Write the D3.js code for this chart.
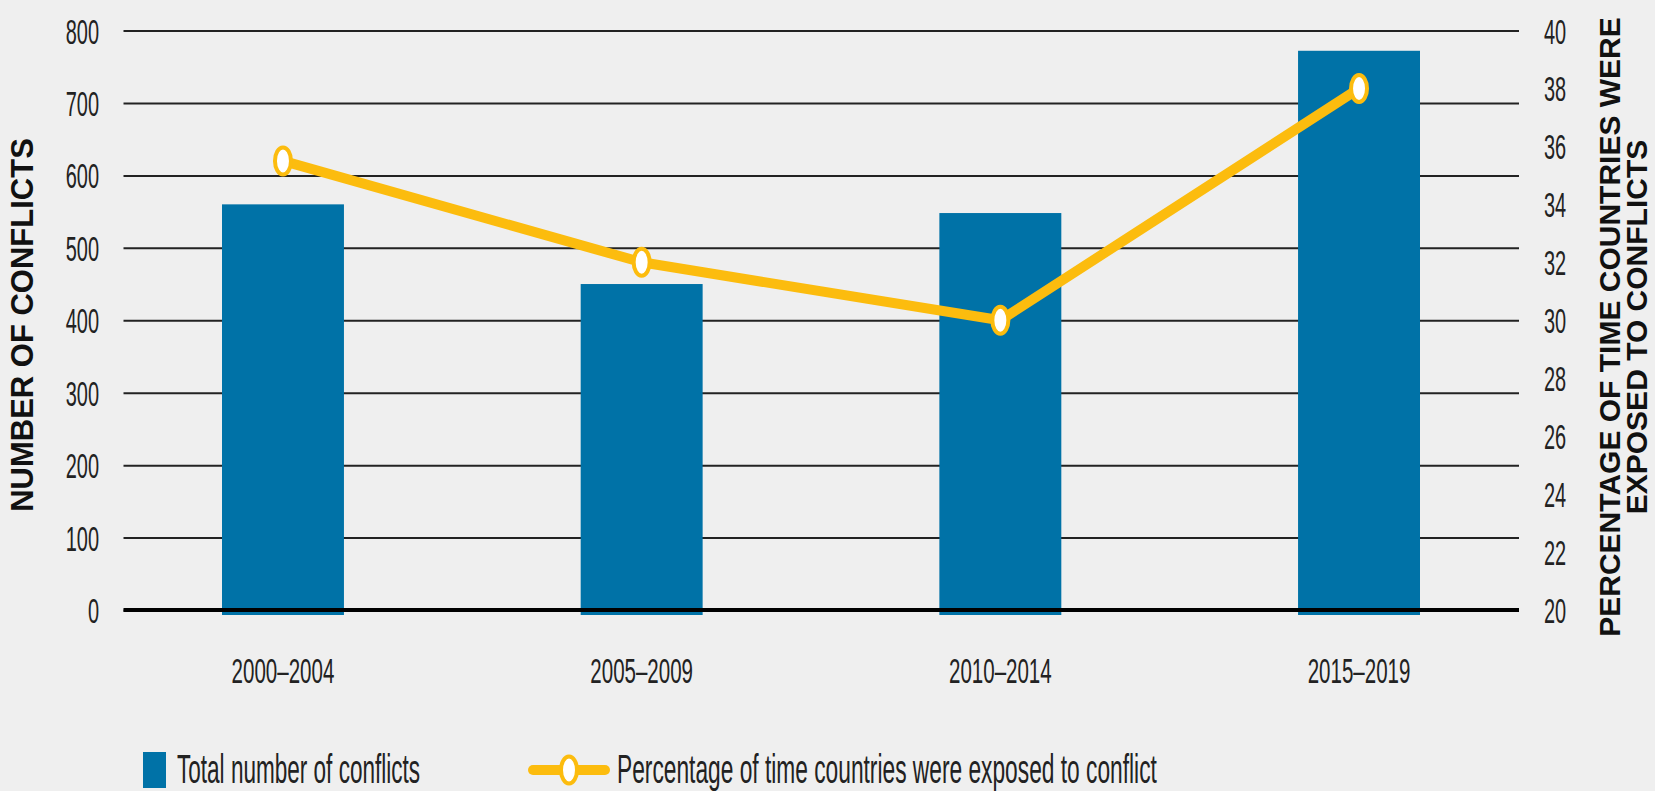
<!DOCTYPE html>
<html>
<head>
<meta charset="utf-8">
<script src="https://cdn.jsdelivr.net/npm/d3@7"></script>
<style>
	body { margin: 0; background: #efefef; }
	svg { display: block; }
</style>
</head>
<body>
<div id="chart"></div>
<script>
// data
const periods = ["2000–2004", "2005–2009", "2010–2014", "2015–2019"];
const conflicts = [560, 450, 548, 772];
const exposure = [35.5, 32, 30, 38];
const leftTicks = [0, 100, 200, 300, 400, 500, 600, 700, 800];
const rightTicks = [20, 22, 24, 26, 28, 30, 32, 34, 36, 38, 40];
const legendLabels = ["Total number of conflicts", "Percentage of time countries were exposed to conflict"];

const W = 1655, H = 791;
const plot = { left: 123.5, right: 1519, top: 30.5, bottom: 610 };
const barColor = "#0072a7", lineColor = "#fcbc0e";
const font = "'Liberation Sans', Arial, sans-serif";

const svg = d3.select("#chart")
	.append("svg")
	.attr("width", W)
	.attr("height", H)
	.style("background", "#efefef");

const x = d3.scaleBand()
	.domain(periods)
	.range([222, 1420])
	.paddingInner(0.66)
	.paddingOuter(0);

const yL = d3.scaleLinear().domain([0, 800]).range([plot.bottom, plot.top]);
const yR = d3.scaleLinear().domain([20, 40]).range([plot.bottom, plot.top]);

// the source font is very condensed, so squeeze text sideways
function squish(sel, dx, dy, k = 0.57) {
	sel.attr("x", 0).attr("y", 0).attr("dy", null)
		.attr("transform", `translate(${dx},${dy}) scale(${k},1)`);
}

// gridlines + left labels
const gl = svg.append("g")
	.attr("transform", `translate(${plot.left},0)`)
	.call(d3.axisLeft(yL).tickValues(leftTicks).tickSize(-(plot.right - plot.left)));
gl.select(".domain").remove();
gl.selectAll(".tick line").attr("stroke", "#222").attr("stroke-width", 2);
gl.selectAll(".tick text")
	.attr("font-family", font)
	.attr("font-size", 35)
	.attr("fill", "#222")
	.attr("text-anchor", "end")
	.call(squish, -24.5, 12.5);

// right labels
const gr = svg.append("g")
	.attr("transform", `translate(1544,0)`)
	.call(d3.axisRight(yR).tickValues(rightTicks).tickSize(0).tickPadding(0));
gr.select(".domain").remove();
gr.selectAll(".tick text")
	.attr("font-family", font)
	.attr("font-size", 35)
	.attr("fill", "#222")
	.attr("text-anchor", "start")
	.call(squish, 0, 12.5);

// bars
svg.append("g")
	.selectAll("rect")
	.data(periods)
	.join("rect")
	.attr("x", d => x(d))
	.attr("y", (d, i) => yL(conflicts[i]))
	.attr("width", x.bandwidth())
	.attr("height", (d, i) => yL(0) - yL(conflicts[i]) + 5)
	.attr("fill", barColor);

// zero line
svg.append("line")
	.attr("x1", plot.left).attr("x2", plot.right)
	.attr("y1", yL(0)).attr("y2", yL(0))
	.attr("stroke", "#000").attr("stroke-width", 4);

// x labels
svg.append("g")
	.selectAll("text")
	.data(periods)
	.join("text")
	.text(d => d)
	.attr("font-family", font)
	.attr("font-size", 36)
	.attr("fill", "#222")
	.attr("text-anchor", "middle")
	.each(function (d) { d3.select(this).call(squish, x(d) + x.bandwidth() / 2, 683); });

// exposure line
const cx = d => x(d) + x.bandwidth() / 2;
svg.append("path")
	.datum(periods)
	.attr("fill", "none")
	.attr("stroke", lineColor)
	.attr("stroke-width", 10)
	.attr("stroke-linejoin", "round")
	.attr("d", d3.line().x(d => cx(d)).y((d, i) => yR(exposure[i])));

svg.append("g")
	.selectAll("ellipse")
	.data(periods)
	.join("ellipse")
	.attr("cx", d => cx(d))
	.attr("cy", (d, i) => yR(exposure[i]))
	.attr("rx", 8).attr("ry", 13.5)
	.attr("fill", "#fff")
	.attr("stroke", lineColor)
	.attr("stroke-width", 4);

// axis titles
svg.append("text")
	.attr("transform", "translate(33,325) rotate(-90)")
	.attr("text-anchor", "middle")
	.attr("font-family", font)
	.attr("font-weight", "bold")
	.attr("font-size", 31)
	.attr("fill", "#111")
	.text("NUMBER OF CONFLICTS");

const rt = svg.append("text")
	.attr("transform", "translate(1620,327) rotate(-90)")
	.attr("text-anchor", "middle")
	.attr("font-family", font)
	.attr("font-weight", "bold")
	.attr("font-size", 30)
	.attr("fill", "#111");
rt.append("tspan").attr("x", 0).attr("dy", 0).text("PERCENTAGE OF TIME COUNTRIES WERE");
rt.append("tspan").attr("x", 0).attr("dy", 27).text("EXPOSED TO CONFLICTS");

// legend
const lg = svg.append("g");
lg.append("rect")
	.attr("x", 143).attr("y", 752)
	.attr("width", 23).attr("height", 36)
	.attr("fill", barColor);
lg.append("text")
	.text(legendLabels[0])
	.attr("font-family", font)
	.attr("font-size", 41)
	.attr("fill", "#222")
	.call(squish, 177, 783, 0.55);

lg.append("line")
	.attr("x1", 533).attr("x2", 605)
	.attr("y1", 770).attr("y2", 770)
	.attr("stroke", lineColor)
	.attr("stroke-width", 10)
	.attr("stroke-linecap", "round");
lg.append("ellipse")
	.attr("cx", 569).attr("cy", 770)
	.attr("rx", 8).attr("ry", 13.5)
	.attr("fill", "#fff")
	.attr("stroke", lineColor)
	.attr("stroke-width", 4);
lg.append("text")
	.text(legendLabels[1])
	.attr("font-family", font)
	.attr("font-size", 41)
	.attr("fill", "#222")
	.call(squish, 617, 783, 0.555);
</script>
</body>
</html>
